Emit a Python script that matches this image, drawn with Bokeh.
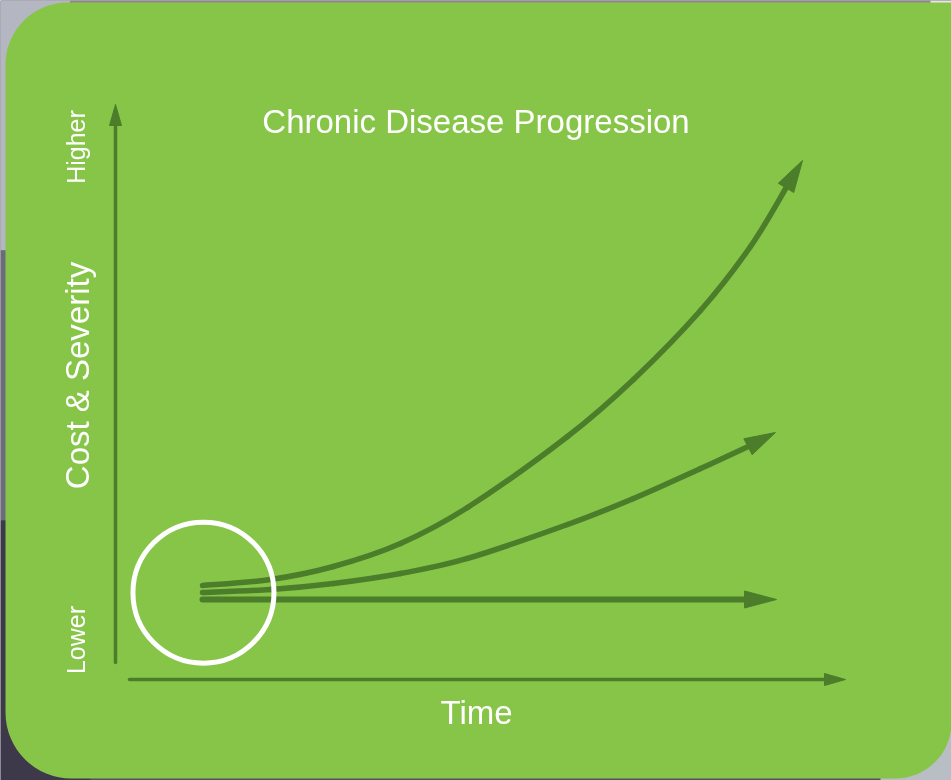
import math
from bokeh.plotting import figure
from bokeh.models import Range1d, BoxAnnotation, ColumnDataSource
from bokeh.core.properties import value
from bokeh.embed import file_html
from bokeh.resources import INLINE

# ---------------- data (time vs cost & severity, arbitrary units) ----------------
title_text = "Chronic Disease Progression"
x_label = "Time"
y_label = "Cost & Severity"
y_high = "Higher"
y_low = "Lower"

# steep progression
time_steep = [1.192, 2.123, 2.986, 3.904, 4.822, 6.192, 7.096, 8.014, 8.699, 9.205, 9.411]
sev_steep = [1.288, 1.370, 1.548, 1.863, 2.356, 3.329, 4.110, 5.055, 5.932, 6.767, 7.110]

# moderate progression
time_mod = [1.192, 2.123, 2.986, 3.904, 4.822, 6.192, 7.096, 8.014, 8.671, 9.041]
sev_mod = [1.192, 1.233, 1.315, 1.452, 1.658, 2.123, 2.479, 2.890, 3.192, 3.384]

# controlled (flat)
time_flat = [1.192, 9.055]
sev_flat = [1.096, 1.096]

# axes extents
y_axis_t = [0.0, 0.0]
y_axis_s = [0.233, 7.877]
x_axis_t = [0.192, 10.0]
x_axis_s = [0.0, 0.0]

# early-intervention circle
circle_t = [1.205]
circle_s = [1.19]

# ---------------- layout / style ----------------
PX = 73.0            # pixels per unit
W, H = 951, 780
ORIGIN_X, ORIGIN_Y = 115, 679
GREEN = "#87C548"
DARK = "#4B7D2B"
FONT = "Liberation Sans"

p = figure(width=W, height=H, output_backend="svg", toolbar_location=None,
           x_range=Range1d(-ORIGIN_X / PX, (W - ORIGIN_X) / PX),
           y_range=Range1d((ORIGIN_Y - H) / PX, ORIGIN_Y / PX),
           x_axis_location=None, y_axis_location=None, min_border=0)
p.grid.visible = False
p.outline_line_color = None
p.background_fill_color = "#55505f"
p.border_fill_color = "#55505f"
p.styles = {"position": "fixed", "left": "0px", "top": "0px"}


def d(px=None, py=None):
    if px is not None:
        return (px - ORIGIN_X) / PX
    return (ORIGIN_Y - py) / PX


# surrounding photo (blurred) approximations
for (l, r, t, b, c) in [
    (0, 70, 0, 250, "#b4b7c2"),
    (0, 70, 250, 520, "#6c6b7b"),
    (0, 90, 520, 780, "#3d384a"),
    (70, 951, 0, 60, "#8f8689"),
    (880, 951, 690, 780, "#b9bdc4"),
    (930, 951, 0, 160, "#e6e6e6"),
]:
    p.add_layout(BoxAnnotation(left=d(px=l), right=d(px=r), top=d(py=t), bottom=d(py=b),
                               fill_color=c, fill_alpha=1, line_alpha=0, level="underlay"))

# green rounded panel
p.add_layout(BoxAnnotation(left=d(px=5), right=d(px=951), top=d(py=2), bottom=d(py=778),
                           fill_color=GREEN, fill_alpha=1, line_alpha=0, level="underlay",
                           border_radius=dict(top_left=62, top_right=0, bottom_right=56, bottom_left=66)))


def smooth_line(xs, ys, width):
    """Draw a smooth (Catmull-Rom as cubic Bezier) curve through the given points."""
    n = len(xs)
    if n == 2:
        p.line(xs, ys, line_color=DARK, line_width=width, line_cap="round")
        return
    x0, y0, x1, y1, cx0, cy0, cx1, cy1 = ([] for _ in range(8))
    for i in range(n - 1):
        pm = (xs[max(i - 1, 0)], ys[max(i - 1, 0)])
        pa = (xs[i], ys[i])
        pb = (xs[i + 1], ys[i + 1])
        pn = (xs[min(i + 2, n - 1)], ys[min(i + 2, n - 1)])
        x0.append(pa[0]); y0.append(pa[1]); x1.append(pb[0]); y1.append(pb[1])
        cx0.append(pa[0] + (pb[0] - pm[0]) / 6); cy0.append(pa[1] + (pb[1] - pm[1]) / 6)
        cx1.append(pb[0] - (pn[0] - pa[0]) / 6); cy1.append(pb[1] - (pn[1] - pa[1]) / 6)
    p.bezier(x0=x0, y0=y0, x1=x1, y1=y1, cx0=cx0, cy0=cy0, cx1=cx1, cy1=cy1,
             line_color=DARK, line_width=width, line_cap="round")


def arrow(ts, ss, width, head_len_px, head_w_px):
    L = head_len_px / PX
    hw = head_w_px / 2 / PX
    tip = (ts[-1], ss[-1])
    ref = (ts[-2], ss[-2])
    dx, dy = tip[0] - ref[0], tip[1] - ref[1]
    n = math.hypot(dx, dy)
    ux, uy = dx / n, dy / n
    base = (tip[0] - ux * L, tip[1] - uy * L)
    kept = [(a, b) for a, b in zip(ts[:-1], ss[:-1])
            if math.hypot(tip[0] - a, tip[1] - b) > L * 1.1]
    lx = [k[0] for k in kept] + [base[0] + ux * 0.03]
    ly = [k[1] for k in kept] + [base[1] + uy * 0.03]
    smooth_line(lx, ly, width)
    px_ = [tip[0], base[0] - uy * hw, base[0] + uy * hw]
    py_ = [tip[1], base[1] + ux * hw, base[1] - ux * hw]
    p.patch(px_, py_, fill_color=DARK, line_color=DARK, line_width=1)


# axes
arrow(y_axis_t, y_axis_s, 3.5, 21, 12)
arrow(x_axis_t, x_axis_s, 3.5, 21, 12)

# progression curves
arrow(time_flat, sev_flat, 6, 32, 17)
arrow(time_mod, sev_mod, 5.5, 31, 18)
arrow(time_steep, sev_steep, 5.5, 32, 18)

# circle
p.circle(circle_t, circle_s, radius=70.5 / PX, fill_alpha=0, line_color="white", line_width=5)

# texts
txt = ColumnDataSource(dict(
    x=[d(px=475.5), d(px=476), d(px=77), d(px=75.5), d(px=75.5)],
    y=[d(py=121), d(py=712), d(py=375), d(py=146.5), d(py=639.5)],
    text=[title_text, x_label, y_label, y_high, y_low],
    angle=[0, 0, math.pi / 2, math.pi / 2, math.pi / 2],
    size=["33px", "33px", "33px", "25px", "25px"],
))
p.text(x="x", y="y", text="text", angle="angle", text_font_size="size", source=txt,
       text_font=value(FONT), text_color="white", text_align="center",
       text_baseline="alphabetic")

open("out.html", "w").write(file_html(p, INLINE))
